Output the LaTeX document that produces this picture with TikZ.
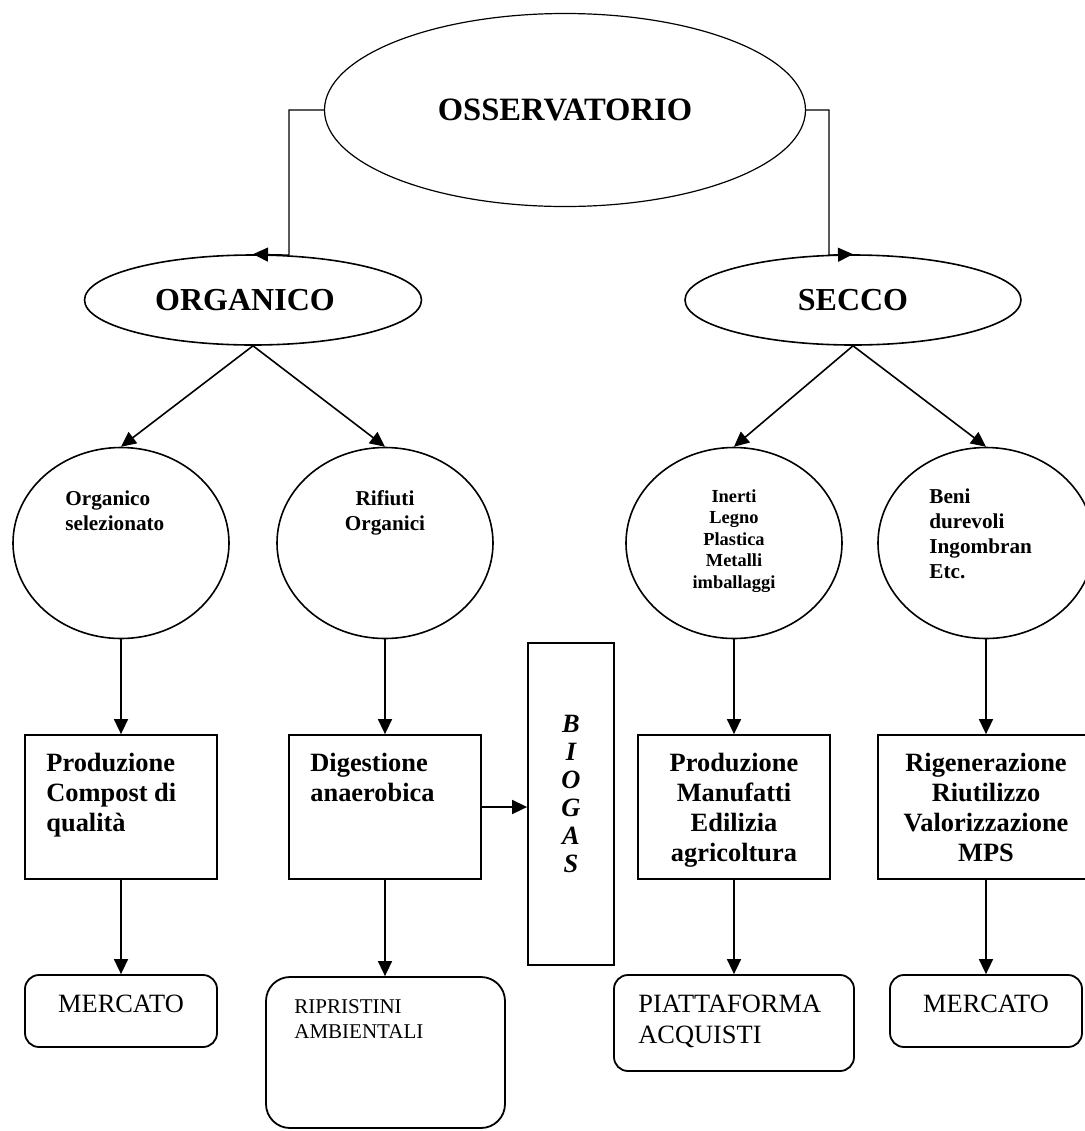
\documentclass[tikz,border=0pt]{standalone}
\usepackage{fontspec}
\setmainfont{Liberation Serif}
\usetikzlibrary{shapes.geometric,arrows.meta}

\begin{document}
\begin{tikzpicture}[x=0.5pt,y=-0.5pt,
	oval/.style={draw,ellipse,line width=0.8pt,inner sep=0pt},
	box/.style={draw,rectangle,line width=0.9pt,inner sep=0pt},
	rbox/.style={draw,rectangle,rounded corners=7pt,line width=0.9pt,inner sep=0pt},
	txt/.style={inner sep=0pt},
	arr/.style={line width=0.8pt,-{Triangle[length=7.5pt,width=7pt]}}]
		%%%%% START %%%%%
		
		\useasboundingbox (0,0) rectangle (1085,1131);
		
		% top
		\node[oval, line width=0.6pt, minimum width=240.5pt, minimum height=96.5pt,
			font=\bfseries\fontsize{16.3}{18}\selectfont] (obs) at (565,110) {OSSERVATORIO};
		\node[oval, minimum width=168.5pt, minimum height=45pt,
			font=\bfseries\fontsize{16}{18}\selectfont] (org) at (253,300) {ORGANICO\kern8pt};
		\node[oval, minimum width=168pt, minimum height=45pt,
			font=\bfseries\fontsize{16}{18}\selectfont] (sec) at (853,300) {SECCO};
		
		\draw[arr, line width=0.6pt] (obs.west) -| (289,255) -- (org.north);
		\draw[arr, line width=0.6pt] (obs.east) -| (829,255) -- (sec.north);
		
		% circles
		\node[oval, minimum width=108pt, minimum height=95.5pt] (c1) at (121,543) {};
		\node[oval, minimum width=108pt, minimum height=95.5pt] (c2) at (385,543) {};
		\node[oval, minimum width=108pt, minimum height=95.5pt] (c3) at (734,543) {};
		\node[oval, minimum width=108pt, minimum height=95.5pt] (c4) at (986,543) {};
		
		\node[txt, anchor=north west, align=left, font=\bfseries\fontsize{10.6}{12.5}\selectfont]
			(t1) at (65,490) {Organico\\selezionato};
		\node[txt, anchor=north, align=center, font=\bfseries\fontsize{10.6}{12.5}\selectfont]
			(t2) at (385,490) {Rifiuti\\Organici};
		\node[txt, anchor=north, align=center, font=\bfseries\fontsize{9.2}{10.8}\selectfont]
			(t3) at (734,489) {Inerti\\Legno\\Plastica\\Metalli\\imballaggi};
		\node[txt, anchor=north west, align=left, font=\bfseries\fontsize{10.6}{12.5}\selectfont]
			(t4) at (929,488) {Beni\\durevoli\\Ingombran\\Etc.};
		
		\draw[arr] (org.south) -- (c1.north);
		\draw[arr] (org.south) -- (c2.north);
		\draw[arr] (sec.south) -- (c3.north);
		\draw[arr] (sec.south) -- (c4.north);
		
		% boxes
		\node[box, minimum width=96pt, minimum height=72pt] (b1) at (121,807) {};
		\node[box, minimum width=96pt, minimum height=72pt] (b2) at (385,807) {};
		\node[box, minimum width=96pt, minimum height=72pt] (b3) at (734,807) {};
		\node[box, minimum width=108pt, minimum height=72pt] (b4) at (986,807) {};
		\node[box, minimum width=43pt, minimum height=161pt] (bio) at (571,804) {};
		
		\node[txt, anchor=north west, align=left, font=\bfseries\fontsize{13.2}{15}\selectfont]
			(p1) at (46,753) {Produzione\\Compost di\\qualità};
		\node[txt, anchor=north west, align=left, font=\bfseries\fontsize{13.2}{15}\selectfont]
			(p2) at (310,753) {Digestione\\anaerobica};
		\node[txt, anchor=north, align=center, font=\bfseries\fontsize{13.2}{15}\selectfont]
			(p3) at (734,753) {Produzione\\Manufatti\\Edilizia\\agricoltura};
		\node[txt, anchor=north, align=center, font=\bfseries\fontsize{13.2}{15}\selectfont]
			(p4) at (986,753) {Rigenerazione\\Riutilizzo\\Valorizzazione\\MPS};
		\node[txt, anchor=north, align=center, font=\bfseries\itshape\fontsize{13.2}{14}\selectfont]
			(bg) at (571,715) {B\\I\\O\\G\\A\\S};
		
		\draw[arr] (c1.south) -- (b1.north);
		\draw[arr] (c2.south) -- (b2.north);
		\draw[arr] (c3.south) -- (b3.north);
		\draw[arr] (c4.south) -- (b4.north);
		\draw[arr] (b2.east) -- (b2.east -| bio.west);
		
		% bottom
		\node[rbox, minimum width=96pt, minimum height=36pt] (m1) at (121,1011) {};
		\node[rbox, rounded corners=12pt, minimum width=119.5pt, minimum height=75.5pt] (rip) at (385.5,1052.5) {};
		\node[rbox, minimum width=120pt, minimum height=48pt] (piat) at (734,1023) {};
		\node[rbox, minimum width=96pt, minimum height=36pt] (m2) at (986,1011) {};
		
		\node[txt, anchor=north, font=\fontsize{13.2}{15.5}\selectfont] (q1) at (121,995) {MERCATO};
		\node[txt, anchor=north west, align=left, font=\fontsize{10.5}{12.5}\selectfont]
			(q2) at (294,999) {RIPRISTINI\\AMBIENTALI};
		\node[txt, anchor=north west, align=left, font=\fontsize{13.2}{15.5}\selectfont]
			(q3) at (638,995) {PIATTAFORMA\\ACQUISTI};
		\node[txt, anchor=north, font=\fontsize{13.2}{15.5}\selectfont] (q4) at (986,995) {MERCATO};
		
		\draw[arr] (b1.south) -- (m1.north);
		\draw[arr] (b2.south) -- (b2.south |- rip.north);
		\draw[arr] (b3.south) -- (piat.north);
		\draw[arr] (b4.south) -- (m2.north);
		
		%%%%% END %%%%%
	\end{tikzpicture}
\end{document}
